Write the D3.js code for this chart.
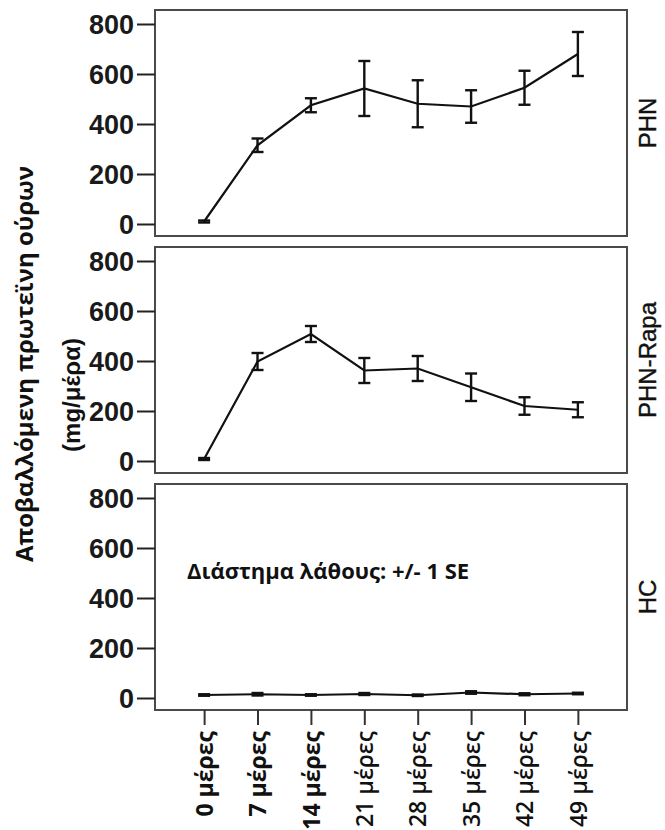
<!DOCTYPE html>
<html>
<head>
<meta charset="utf-8">
<script src="https://cdn.jsdelivr.net/npm/d3@7"></script>
<style>
  html, body { margin: 0; padding: 0; background: #fff; }
  svg { display: block; }
</style>
</head>
<body>
<svg id="chart" width="665" height="830"></svg>
<script>
// ---- data ----
const days = ["0 μέρες", "7 μέρες", "14 μέρες", "21 μέρες", "28 μέρες", "35 μέρες", "42 μέρες", "49 μέρες"];
const boldDays = ["0 μέρες", "7 μέρες", "14 μέρες"];
const groups = ["PHN", "PHN-Rapa", "HC"];
const phnMean = [10, 315, 475, 542, 481, 470, 545, 680];
const phnSE = [4, 27, 28, 110, 94, 65, 68, 88];
const rapaMean = [8, 398, 508, 362, 370, 295, 220, 205];
const rapaSE = [4, 34, 32, 50, 50, 55, 35, 30];
const hcMean = [12, 15, 12, 16, 11, 22, 15, 18];
const hcSE = [3, 5, 3, 4, 3, 5, 4, 3];
const yTicks = [0, 200, 400, 600, 800];
const yLabel = "Αποβαλλόμενη πρωτεϊνη ούρων";
const yUnit = "(mg/μέρα)";
const note = "Διάστημα λάθους: +/- 1 SE";

const series = [
  { name: groups[0], mean: phnMean, se: phnSE },
  { name: groups[1], mean: rapaMean, se: rapaSE },
  { name: groups[2], mean: hcMean, se: hcSE }
];

// ---- layout ----
const svg = d3.select("#chart");
const left = 155, right = 627;
const panelTops = [10, 247, 484];
const panelH = 226;

const x = d3.scalePoint().domain(days).range([left, right]).padding(0.92);
const y = d3.scaleLinear().domain([0, 800]).range([214, 14]);

const tickFont = "'Liberation Sans', Arial, sans-serif";
const textFont = "'Open Sans', 'Noto Sans', sans-serif";

series.forEach((s, i) => {
  const g = svg.append("g").attr("transform", `translate(0,${panelTops[i]})`);

  // frame
  g.append("rect")
    .attr("x", left).attr("y", 0)
    .attr("width", right - left).attr("height", panelH)
    .attr("fill", "none").attr("stroke", "#4a4a4a").attr("stroke-width", 2);

  // y axis
  const ax = g.append("g").attr("transform", `translate(${left},0)`)
    .call(d3.axisLeft(y).tickValues(yTicks).tickSize(18).tickPadding(3).tickFormat(d3.format("d")));
  ax.select(".domain").remove();
  ax.selectAll(".tick line").attr("stroke", "#222").attr("stroke-width", 2);
  ax.selectAll(".tick text")
    .attr("font-family", tickFont).attr("font-size", 27).attr("font-weight", "bold")
    .attr("fill", "#1a1a1a").attr("dy", "0.36em");

  // line
  const pts = s.mean.map((m, j) => ({ day: days[j], m, se: s.se[j] }));
  g.append("path")
    .datum(pts)
    .attr("fill", "none").attr("stroke", "#111").attr("stroke-width", 2.2)
    .attr("d", d3.line().x(d => x(d.day)).y(d => y(d.m)));

  // error bars
  const eb = g.selectAll(".eb").data(pts).enter().append("g")
    .attr("stroke", "#111").attr("stroke-width", 2.4);
  eb.append("line")
    .attr("x1", d => x(d.day)).attr("x2", d => x(d.day))
    .attr("y1", d => y(d.m - d.se)).attr("y2", d => y(d.m + d.se));
  eb.append("line")
    .attr("x1", d => x(d.day) - 6).attr("x2", d => x(d.day) + 6)
    .attr("y1", d => y(d.m + d.se)).attr("y2", d => y(d.m + d.se));
  eb.append("line")
    .attr("x1", d => x(d.day) - 6).attr("x2", d => x(d.day) + 6)
    .attr("y1", d => y(d.m - d.se)).attr("y2", d => y(d.m - d.se));

  // group label on right
  g.append("text")
    .attr("transform", `translate(656,${panelH / 2}) rotate(-90)`)
    .attr("text-anchor", "middle")
    .attr("font-family", tickFont).attr("font-size", 24)
    .attr("stroke", "#111").attr("stroke-width", 0.4)
    .attr("fill", "#111")
    .text(s.name);
});

// x axis (bottom panel only)
const bottom = panelTops[2] + panelH;
const xa = svg.append("g").attr("transform", `translate(0,${bottom})`)
  .call(d3.axisBottom(x).tickSize(15).tickPadding(6));
xa.select(".domain").remove();
xa.selectAll(".tick line").attr("stroke", "#333").attr("stroke-width", 2);
xa.selectAll(".tick text")
  .attr("font-family", textFont)
  .attr("font-size", d => boldDays.includes(d) ? 23 : 23)
  .attr("font-weight", d => boldDays.includes(d) ? "bold" : "600")
  .attr("fill", "#111")
  .attr("text-anchor", "end")
  .attr("transform", "rotate(-90)")
  .attr("x", -21).attr("y", 0).attr("dy", "0.36em");

// y axis title
svg.append("text")
  .attr("transform", "translate(33,364) rotate(-90)")
  .attr("text-anchor", "middle")
  .attr("font-family", textFont)
  .attr("font-weight", "bold").attr("font-size", 24)
  .attr("fill", "#111")
  .text(yLabel);
svg.append("text")
  .attr("transform", "translate(80,395) rotate(-90)")
  .attr("text-anchor", "middle")
  .attr("font-family", tickFont)
  .attr("font-weight", "bold").attr("font-size", 24)
  .attr("fill", "#111")
  .text(yUnit);

// note
svg.append("text")
  .attr("x", 187).attr("y", 579)
  .attr("font-family", textFont)
  .attr("font-weight", "bold").attr("font-size", 22)
  .attr("fill", "#111")
  .text(note);
</script>
</body>
</html>
